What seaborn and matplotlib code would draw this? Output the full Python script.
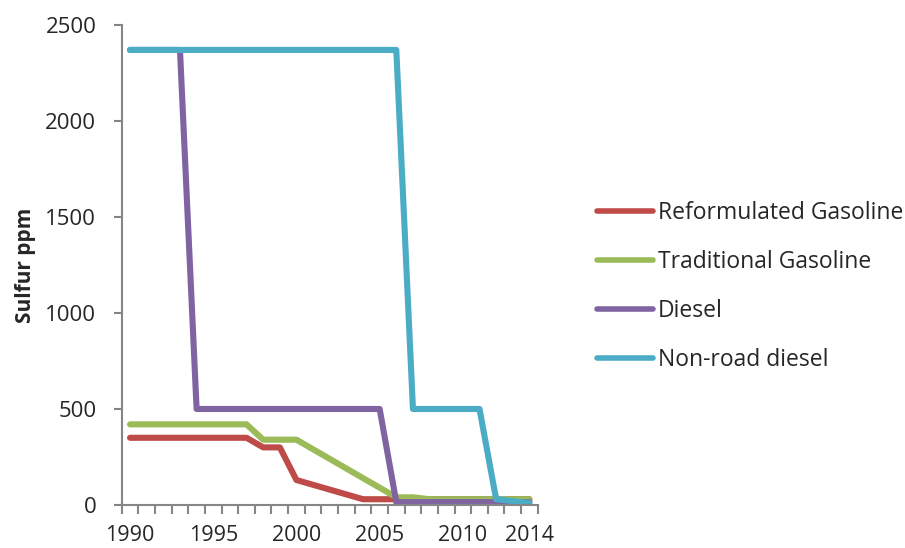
import matplotlib
matplotlib.use("Agg")
import matplotlib.pyplot as plt
from matplotlib.ticker import FixedLocator, NullFormatter
import seaborn as sns
import pandas as pd

# Sulfur content limits by fuel type, ppm
years = list(range(1990, 2015))
reformulated_gasoline = [350] * 8 + [300, 300, 130, 105, 80, 55, 30] + [30] * 10
traditional_gasoline = [420] * 8 + [340, 340, 340, 290, 240, 190, 140, 90, 40, 40] + [30] * 7
diesel = [2370] * 4 + [500] * 12 + [15] * 9
nonroad_diesel = [2370] * 17 + [500] * 5 + [30, 20, 10]

series_names = ["Reformulated Gasoline", "Traditional Gasoline", "Diesel", "Non-road diesel"]
series_values = [reformulated_gasoline, traditional_gasoline, diesel, nonroad_diesel]
colors = ["#BE4B48", "#9BBB59", "#8064A2", "#4BACC6"]
year_labels = [1990, 1995, 2000, 2005, 2010, 2014]
y_ticks = [0, 500, 1000, 1500, 2000, 2500]

df = pd.DataFrame({
    "Year": years * len(series_names),
    "Sulfur": [v for vals in series_values for v in vals],
    "Fuel": [n for n in series_names for _ in years],
})

sns.set_style("white")
plt.rcParams["font.family"] = ["Open Sans", "DejaVu Sans"]

fig = plt.figure(figsize=(9.05, 5.48), dpi=100)
ax = fig.add_axes([0.1345, 0.0785, 0.4597, 0.8759])

sns.lineplot(data=df, x="Year", y="Sulfur", hue="Fuel", hue_order=series_names,
             palette=colors, linewidth=4.4, ax=ax, legend=True)
for line in ax.get_lines():
    line.set_solid_joinstyle("round")
    line.set_solid_capstyle("round")

ax.set_xlim(1989.5, 2014.5)
ax.set_ylim(0, 2500)

axis_gray = "#868686"
for side in ["top", "right"]:
    ax.spines[side].set_visible(False)
for side in ["left", "bottom"]:
    ax.spines[side].set_color(axis_gray)
    ax.spines[side].set_linewidth(1.5)

ax.set_yticks(y_ticks)
ax.set_yticklabels([str(t) for t in y_ticks])
ax.tick_params(axis="y", direction="out", length=5.8, width=1.5, color=axis_gray,
               labelsize=16, pad=12.5, left=True)

# Category labels on the years, tick marks between categories
ax.set_xticks(year_labels)
ax.set_xticklabels([str(y) for y in year_labels])
ax.tick_params(axis="x", which="major", length=0, labelsize=15.5, pad=14.5)
ax.xaxis.set_minor_locator(FixedLocator([y - 0.5 for y in years] + [years[-1] + 0.5]))
ax.xaxis.set_minor_formatter(NullFormatter())
ax.tick_params(axis="x", which="minor", direction="out", length=6.5, width=1.5,
               color=axis_gray, bottom=True)

ax.set_xlabel("")
ax.set_ylabel("Sulfur ppm", fontsize=15, fontweight="bold", labelpad=7)

handles, labels = ax.get_legend_handles_labels()
for h in handles:
    h.set_linewidth(4.0)
    h.set_solid_capstyle("round")
ax.legend(handles, labels, loc="center left", bbox_to_anchor=(0.637, 0.477),
          bbox_transform=fig.transFigure, frameon=False, fontsize=16.5,
          handlelength=2.44, handletextpad=0.22, labelspacing=1.1)

fig.savefig("out.png", dpi=100)
